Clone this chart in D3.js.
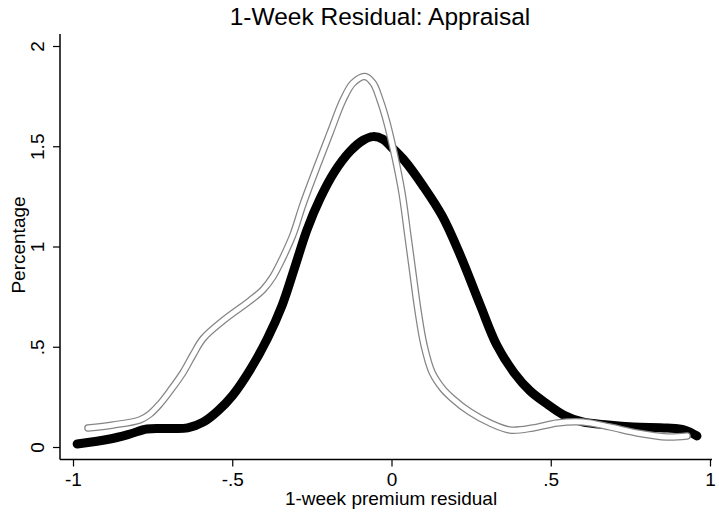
<!DOCTYPE html>
<html>
<head>
<meta charset="utf-8">
<script src="https://cdn.jsdelivr.net/npm/d3@7"></script>
<style>
  body { margin: 0; background: #fff; }
  svg { display: block; }
  text { font-family: "Liberation Sans", Arial, Helvetica, sans-serif; fill: #000; }
</style>
</head>
<body>
<svg id="chart" width="719" height="513"></svg>
<script>
// ---- Data ----
const title = "1-Week Residual: Appraisal";
const xLabel = "1-week premium residual";
const yLabel = "Percentage";

const xTicks = [-1, -0.5, 0, 0.5, 1];
const xTickLabels = ["-1", "-.5", "0", ".5", "1"];
const yTicks = [0, 0.5, 1, 1.5, 2];
const yTickLabels = ["0", ".5", "1", "1.5", "2"];

// thick black density curve
const blackX = [-0.987, -0.884, -0.821, -0.768, -0.700, -0.640, -0.590, -0.545, -0.500, -0.444, -0.390, -0.345, -0.305, -0.265, -0.224, -0.180, -0.130, -0.089, -0.058, -0.027, 0.000, 0.040, 0.100, 0.160, 0.215, 0.278, 0.330, 0.385, 0.435, 0.488, 0.540, 0.600, 0.680, 0.760, 0.865, 0.920, 0.959];
const blackY = [0.015, 0.040, 0.065, 0.090, 0.092, 0.095, 0.125, 0.180, 0.255, 0.385, 0.540, 0.700, 0.890, 1.085, 1.240, 1.370, 1.475, 1.530, 1.548, 1.535, 1.495, 1.430, 1.300, 1.150, 0.960, 0.710, 0.510, 0.370, 0.280, 0.215, 0.160, 0.125, 0.110, 0.100, 0.095, 0.085, 0.055];

// grey (outlined) density curve
const greyX = [-0.953, -0.874, -0.790, -0.758, -0.727, -0.695, -0.655, -0.623, -0.592, -0.529, -0.444, -0.403, -0.372, -0.341, -0.309, -0.278, -0.234, -0.193, -0.152, -0.121, -0.083, -0.058, -0.036, -0.014, 0.011, 0.033, 0.052, 0.068, 0.083, 0.102, 0.127, 0.159, 0.190, 0.246, 0.309, 0.372, 0.444, 0.520, 0.601, 0.686, 0.771, 0.865, 0.928];
const greyY = [0.095, 0.110, 0.135, 0.165, 0.215, 0.280, 0.370, 0.460, 0.540, 0.630, 0.730, 0.785, 0.850, 0.945, 1.060, 1.210, 1.397, 1.566, 1.731, 1.815, 1.848, 1.815, 1.731, 1.616, 1.446, 1.267, 1.047, 0.858, 0.683, 0.509, 0.374, 0.294, 0.244, 0.175, 0.120, 0.085, 0.095, 0.120, 0.125, 0.100, 0.070, 0.050, 0.055];

// ---- Layout ----
const svg = d3.select("#chart");
const x = d3.scaleLinear().domain([-1, 1]).range([73, 710]);
const y = d3.scaleLinear().domain([0, 2]).range([447, 46]);
const axisLeftX = 60, axisBottomY = 459.5;

const blackData = blackX.map((v, i) => [v, blackY[i]]);
const greyData = greyX.map((v, i) => [v, greyY[i]]);

const line = d3.line()
  .x(d => x(d[0])).y(d => y(d[1]))
  .curve(d3.curveCatmullRom.alpha(0.5));

// black curve
svg.append("path").attr("d", line(blackData))
  .attr("fill", "none").attr("stroke", "#000")
  .attr("stroke-width", 9).attr("stroke-linecap", "round").attr("stroke-linejoin", "round");

// grey outlined curve (outer grey, inner white)
svg.append("path").attr("d", line(greyData))
  .attr("fill", "none").attr("stroke", "#858585")
  .attr("stroke-width", 7.5).attr("stroke-linecap", "round").attr("stroke-linejoin", "round");
svg.append("path").attr("d", line(greyData))
  .attr("fill", "none").attr("stroke", "#fff")
  .attr("stroke-width", 5).attr("stroke-linecap", "round").attr("stroke-linejoin", "round");

// ---- Axes ----
const yAxis = d3.axisLeft(y).tickValues(yTicks)
  .tickFormat((d, i) => yTickLabels[i]).tickSize(7).tickSizeOuter(0).tickPadding(4);
const gy = svg.append("g").attr("transform", `translate(${axisLeftX},0)`).call(yAxis);
gy.select(".domain").remove();
gy.append("line").attr("x1", 0).attr("x2", 0).attr("y1", 34).attr("y2", axisBottomY)
  .attr("stroke", "#000").attr("stroke-width", 1.5);
gy.selectAll(".tick line").attr("stroke", "#000").attr("stroke-width", 1.2);
gy.selectAll(".tick text")
  .attr("font-size", 19)
  .attr("font-family", "Liberation Sans, Arial, sans-serif")
  .attr("fill", "#000")
  .attr("text-anchor", "middle")
  .attr("dy", null)
  .attr("x", null)
  .attr("transform", "translate(-16,0) rotate(-90)");

const xAxis = d3.axisBottom(x).tickValues(xTicks)
  .tickFormat((d, i) => xTickLabels[i]).tickSize(7).tickSizeOuter(0).tickPadding(6);
const gx = svg.append("g").attr("transform", `translate(0,${axisBottomY})`).call(xAxis);
gx.select(".domain").remove();
gx.append("line").attr("x1", axisLeftX).attr("x2", 712).attr("y1", 0).attr("y2", 0)
  .attr("stroke", "#000").attr("stroke-width", 1.5);
gx.selectAll(".tick line").attr("stroke", "#000").attr("stroke-width", 1.2);
gx.selectAll(".tick text")
  .attr("font-size", 19)
  .attr("font-family", "Liberation Sans, Arial, sans-serif")
  .attr("fill", "#000");

// ---- Titles ----
svg.append("text").attr("x", 380).attr("y", 25)
  .attr("text-anchor", "middle").attr("font-size", 24.5).text(title);
svg.append("text").attr("x", 391).attr("y", 505)
  .attr("text-anchor", "middle").attr("font-size", 19).text(xLabel);
svg.append("text").attr("transform", "translate(25,245) rotate(-90)")
  .attr("text-anchor", "middle").attr("font-size", 19).text(yLabel);
</script>
</body>
</html>
